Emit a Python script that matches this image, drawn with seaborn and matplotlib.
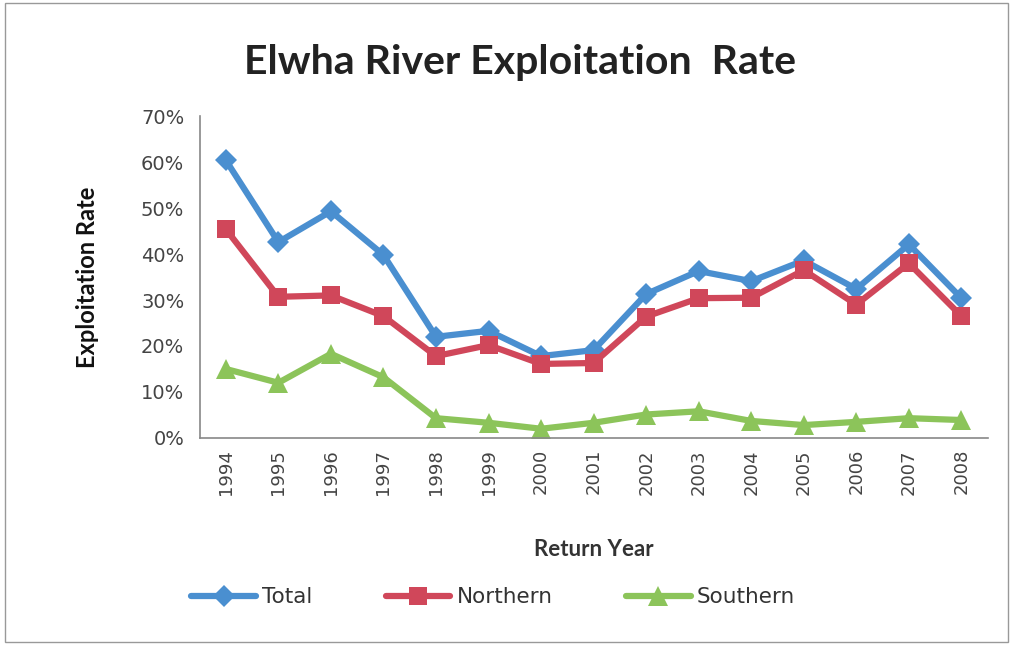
import matplotlib
matplotlib.use("Agg")
import matplotlib.pyplot as plt
import seaborn as sns
import pandas as pd
from matplotlib.ticker import FuncFormatter, MultipleLocator, FixedLocator
from matplotlib.patches import Rectangle
from matplotlib.lines import Line2D

years = ["1994", "1995", "1996", "1997", "1998", "1999", "2000", "2001",
         "2002", "2003", "2004", "2005", "2006", "2007", "2008"]
total = [60.4, 42.6, 49.3, 39.8, 22.0, 23.3, 17.8, 19.1, 31.3, 36.3, 34.1, 38.6, 32.4, 42.1, 30.4]
northern = [45.4, 30.7, 31.0, 26.5, 17.8, 20.2, 16.1, 16.3, 26.4, 30.4, 30.5, 36.5, 29.0, 38.0, 26.5]
southern = [15.0, 12.0, 18.3, 13.2, 4.3, 3.3, 2.0, 3.3, 5.1, 5.8, 3.7, 2.8, 3.5, 4.3, 3.9]
series_names = ["Total", "Northern", "Southern"]
colors = ["#4A8FD0", "#D0475A", "#8CC45A"]
markers = ["D", "s", "^"]

rows = []
for name, vals in zip(series_names, [total, northern, southern]):
    for i, (y, v) in enumerate(zip(years, vals)):
        rows.append({"idx": i, "Year": y, "Rate": v, "Series": name})
df = pd.DataFrame(rows)

sns.set_style("white")
fig = plt.figure(figsize=(10.13, 6.45), dpi=100)
ax = fig.add_axes([0.197, 0.321, 0.778, 0.499])

sns.lineplot(data=df, x="idx", y="Rate", hue="Series", style="Series",
             palette=dict(zip(series_names, colors)),
             markers=dict(zip(series_names, markers)), dashes=False,
             linewidth=4.5, markersize=13, markeredgewidth=0, ax=ax, legend=False)
for line, m in zip(ax.get_lines(), markers):
    if m == "D":
        line.set_markersize(11)
    elif m == "^":
        line.set_markersize(14)

ax.set_xlim(-0.5, 14.5)
ax.set_ylim(0, 70)
ax.xaxis.set_major_locator(FixedLocator(range(15)))
ax.set_xticklabels(years, rotation=90, fontsize=13, color="#444444")
ax.xaxis.set_minor_locator(FixedLocator([i - 0.5 for i in range(16)]))
ax.tick_params(axis="x", which="major", length=0, pad=8)
ax.tick_params(axis="x", which="minor", length=5, color="#888888", direction="out")
ax.yaxis.set_major_locator(MultipleLocator(10))
ax.yaxis.set_major_formatter(FuncFormatter(lambda v, p: f"{int(v)}%"))
ax.tick_params(axis="y", length=5, color="#888888", labelsize=14, labelcolor="#444444", pad=6)
for lab in ax.get_yticklabels() + ax.get_xticklabels():
    lab.set_fontfamily("DejaVu Sans")

for s in ["top", "right"]:
    ax.spines[s].set_visible(False)
for s in ["left", "bottom"]:
    ax.spines[s].set_color("#888888")
    ax.spines[s].set_linewidth(1.2)

ax.set_xlabel("Return Year", fontsize=16, fontweight="bold", family="Lato", color="#333333", labelpad=32)
ax.set_ylabel("Exploitation Rate", fontsize=17, fontweight="bold", family="Lato", color="#111111", labelpad=30)
fig.text(0.513, 0.903, "Elwha River Exploitation  Rate", ha="center", va="center",
         fontsize=29.5, fontweight="bold", family="Lato", color="#222222")

handles = [Line2D([0], [0], color=c, marker=m, lw=4.5, markersize=ms, markeredgewidth=0)
           for c, m, ms in zip(colors, markers, [11, 13, 14])]
fig.legend(handles, series_names, loc="center", bbox_to_anchor=(0.487, 0.074), ncol=3,
           frameon=False, handlelength=3.0, columnspacing=3.4, handletextpad=0.3,
           prop={"family": "DejaVu Sans", "size": 15.5}, labelcolor="#333333")

fig.patches.append(Rectangle((0.005, 0.005), 0.99, 0.99, transform=fig.transFigure,
                             fill=False, edgecolor="#999999", linewidth=1))
fig.savefig("out.png", dpi=100)
